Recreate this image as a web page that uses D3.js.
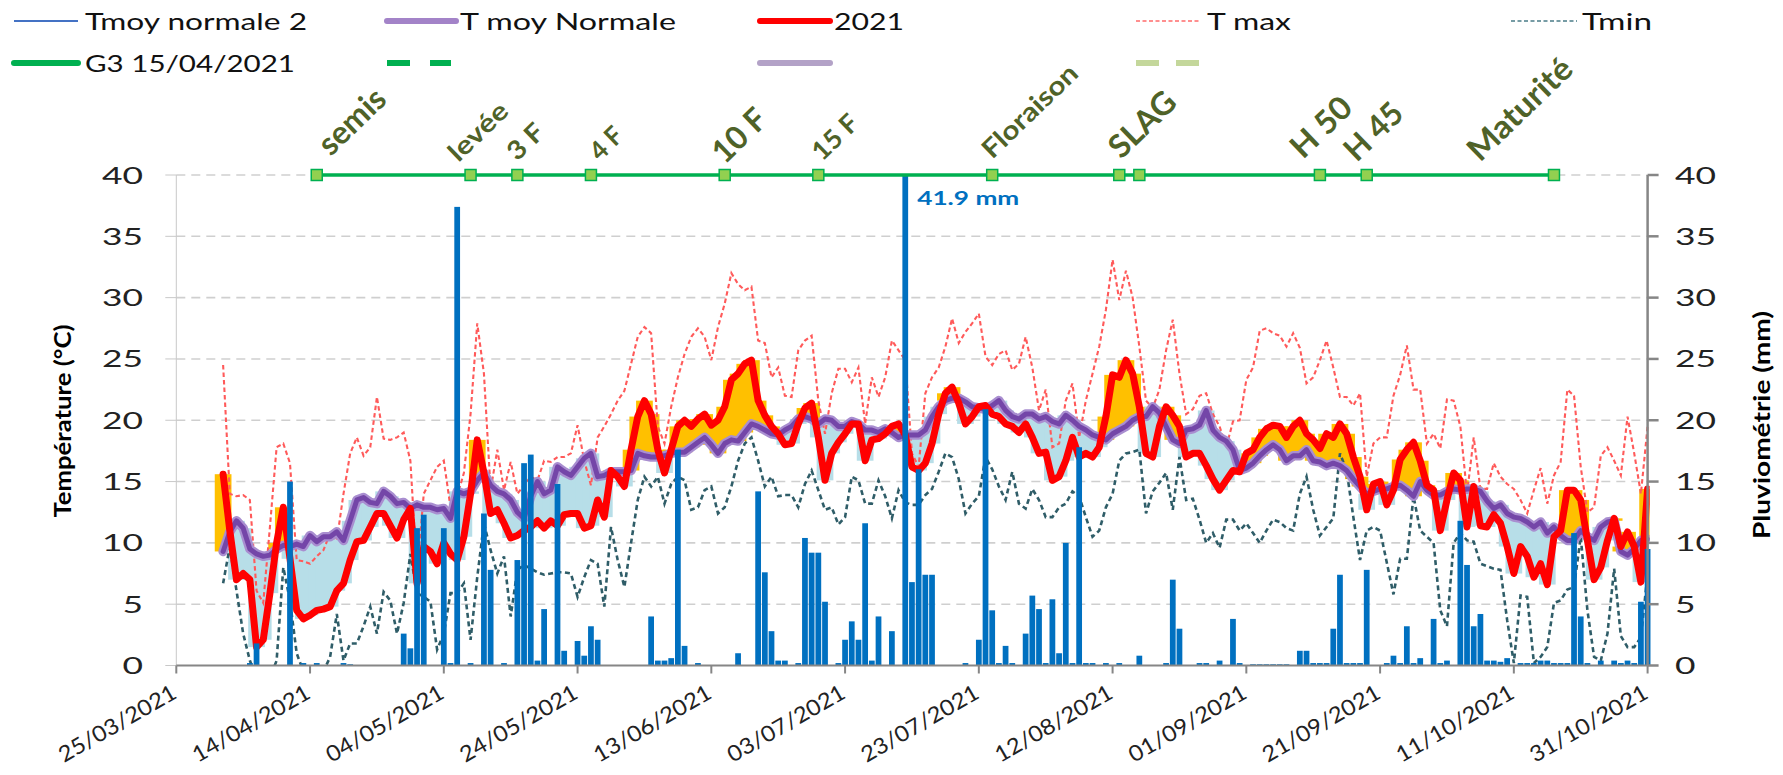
<!DOCTYPE html>
<html><head><meta charset="utf-8">
<script src="https://cdn.jsdelivr.net/npm/d3@7"></script>
<style>html,body{margin:0;padding:0;background:#fff;} svg{display:block;font-family:Lato,"Open Sans",sans-serif;}</style>
</head><body>
<svg id="chart" width="1783" height="775"></svg>
<script>
// ---------------- DATA ----------------
const startDate = "2021-04-01"; // first daily value
const t2021 = [
15.6,11.0,7.0,7.5,7.0,1.5,2.1,5.9,10.0,12.9,
8.7,4.5,3.8,4.1,4.5,4.6,4.8,6.1,6.7,8.6,
10.1,10.2,11.3,12.4,12.4,11.4,10.4,11.9,12.8,6.7,
9.7,9.3,8.3,10.0,9.1,8.6,10.5,14.0,18.4,15.7,
12.4,12.7,11.6,10.4,10.6,11.0,11.3,11.8,11.2,11.8,
11.4,12.3,12.4,12.4,11.2,11.4,13.5,12.1,15.9,15.4,
14.6,17.6,20.3,21.6,20.5,17.6,15.7,17.6,19.5,20.0,
19.5,20.1,20.5,19.6,20.0,21.1,23.3,23.8,24.6,24.9,
21.6,20.4,19.5,18.9,18.0,18.1,19.7,21.0,21.4,18.6,
15.1,17.3,18.2,18.9,19.7,19.7,16.7,18.4,18.5,18.9,
19.5,19.7,18.8,16.2,15.9,16.5,18.1,20.5,22.2,22.7,
21.4,19.7,20.3,21.1,21.2,20.5,20.3,19.7,19.5,19.0,
19.7,18.6,17.3,17.4,15.1,15.4,16.7,18.6,17.0,17.3,
17.0,17.8,20.3,23.7,23.5,24.9,23.8,21.1,17.3,17.0,
19.5,21.1,20.4,19.5,17.0,17.3,17.3,16.3,15.2,14.3,
15.1,15.9,15.8,17.3,17.6,18.6,19.3,19.6,19.5,18.6,
19.5,20.0,18.9,18.4,17.7,18.9,18.6,19.7,18.9,17.0,
15.4,12.7,14.8,15.0,13.1,14.3,16.8,17.6,18.2,16.7,
14.7,14.3,11.0,13.5,15.7,15.1,11.3,14.6,11.4,11.3,
12.3,11.6,9.7,7.5,9.7,8.9,7.2,8.3,6.6,10.5,
11.0,14.3,14.3,13.5,10.2,7.0,8.0,10.2,12.0,9.7,
10.9,9.7,6.8,14.4];
const tMoyNormale = [
9.3,10.9,11.8,11.2,9.5,9.1,8.9,9.0,9.5,9.8,
9.7,9.9,9.7,10.6,10.1,10.5,10.5,10.9,10.2,11.8,
13.5,13.7,13.3,13.2,14.2,13.8,13.2,13.3,12.8,13.1,
12.9,12.9,12.7,12.8,12.0,14.2,14.0,14.2,15.1,15.7,
14.7,14.2,14.0,13.5,12.5,12.0,13.8,15.0,14.0,14.3,
16.2,15.8,15.5,16.2,16.9,17.3,15.4,15.5,15.8,15.8,
15.8,15.9,17.3,17.1,17.0,17.0,17.1,17.3,17.4,17.4,
17.8,18.2,18.6,18.0,17.3,18.1,18.4,18.3,19.0,19.7,
19.5,19.2,18.9,18.8,19.2,19.5,20.1,20.3,20.1,19.7,
20.1,20.0,19.5,19.5,19.9,19.7,19.2,19.2,19.0,19.3,
19.0,18.6,18.8,18.8,18.8,19.2,20.3,21.1,21.6,21.8,
21.8,21.5,21.1,21.0,20.9,21.2,21.6,20.8,20.3,20.1,
20.5,20.5,20.1,20.3,19.9,19.7,20.4,20.0,19.5,19.2,
18.8,18.6,18.4,18.9,19.2,19.5,20.0,20.3,20.3,21.1,
20.6,19.5,18.4,18.1,19.2,19.3,19.6,20.8,19.2,18.6,
18.3,17.6,15.9,16.1,16.5,17.1,17.6,18.0,17.6,16.7,
17.1,17.1,17.6,16.7,16.6,16.3,16.5,16.3,15.9,15.2,
14.6,14.0,14.2,14.4,14.4,14.6,14.7,14.3,13.8,15.0,
14.3,13.9,13.9,14.2,14.4,14.3,14.4,14.4,14.2,13.4,
12.8,13.1,12.4,12.1,12.0,11.7,11.3,11.7,10.8,11.3,
10.6,10.2,10.2,11.0,10.5,10.2,11.3,11.7,11.8,9.3,
9.0,9.5,10.2,10.3];
const tMax = [
24.5,14.0,13.8,13.9,13.5,6.1,5.1,11.3,17.8,18.1,
16.5,8.6,8.5,8.3,8.9,9.4,10.8,10.2,14.0,17.3,
18.6,17.1,17.8,21.9,18.5,18.4,18.6,19.0,16.7,7.5,
14.0,15.1,16.2,16.7,12.9,13.8,15.7,20.5,27.9,23.8,
14.3,17.6,14.3,16.6,14.0,14.7,15.4,15.1,16.7,16.6,
17.0,17.0,17.3,19.6,16.7,14.7,18.6,19.5,20.5,21.6,
22.4,24.6,26.8,27.6,27.1,19.5,18.1,21.1,23.5,25.4,
26.8,27.5,26.8,24.9,27.6,29.5,32.0,31.1,30.6,30.9,
26.5,26.3,23.5,24.3,22.0,21.9,25.7,26.5,26.9,21.6,
18.9,22.2,24.2,24.2,23.1,24.3,19.7,23.5,21.9,23.5,
26.5,25.7,24.9,17.3,16.2,22.2,23.5,24.3,26.0,28.3,
26.3,27.2,27.9,28.7,25.2,24.5,25.4,25.7,24.1,24.6,
26.8,24.3,20.8,22.5,17.8,18.1,21.6,23.0,18.6,21.6,
23.8,26.0,29.0,33.1,29.8,32.2,30.0,26.0,21.6,21.0,
22.5,25.7,28.2,23.8,20.5,20.9,22.0,22.2,20.5,19.5,
17.8,19.9,20.0,23.3,24.3,27.3,27.5,27.1,26.9,26.0,
27.1,25.9,23.0,23.5,24.9,26.5,24.3,21.9,21.9,21.2,
22.2,15.4,18.1,18.6,18.6,22.0,23.7,26.1,22.5,22.5,
18.1,18.9,17.7,21.7,21.6,19.5,14.0,18.6,14.4,14.4,
16.5,15.4,14.8,14.4,13.5,12.4,14.3,16.1,13.2,15.5,
16.6,22.5,22.0,16.2,12.5,12.9,17.1,17.8,16.7,15.5,
20.3,17.3,14.0,19.5];
const tMin = [
6.7,9.7,6.1,2.6,0.4,-1.0,-2.0,-1.0,0.4,8.0,
5.3,1.0,-0.5,-1.0,-1.0,-0.5,0.7,4.2,0.4,1.8,
1.8,3.2,4.8,2.6,6.0,5.3,2.6,5.1,9.1,5.9,
5.6,5.2,1.3,2.6,5.9,5.9,6.7,2.1,7.2,11.6,
9.4,7.5,8.9,4.0,7.8,8.2,7.9,7.6,7.4,7.5,
7.6,7.6,7.5,5.6,7.2,8.6,8.3,4.8,11.3,8.6,
6.4,10.0,13.5,15.4,14.6,15.4,13.2,14.8,15.4,15.1,
12.7,12.9,14.3,14.6,12.4,12.9,14.6,16.7,18.1,18.6,
16.7,14.6,15.4,13.8,13.9,13.9,12.9,14.8,15.9,14.3,
12.7,12.9,11.5,12.1,15.4,15.1,13.2,13.2,15.1,13.8,
12.0,14.3,13.3,13.1,13.1,13.9,14.4,15.8,17.3,17.0,
15.2,12.4,13.2,13.8,17.0,16.0,14.6,13.5,15.8,13.2,
12.8,14.4,13.5,12.1,12.1,12.9,13.2,14.2,13.8,12.1,
10.5,11.0,12.9,14.0,16.7,17.3,17.4,17.6,12.4,14.2,
14.9,15.7,12.7,17.0,13.5,13.6,11.9,10.0,10.8,9.6,
11.9,11.9,11.0,11.6,10.8,10.0,11.0,11.9,11.7,11.2,
11.0,14.0,15.4,12.7,10.6,11.3,12.0,17.3,15.9,12.1,
8.6,11.0,11.3,11.0,8.4,5.8,8.7,8.7,13.8,11.0,
10.5,10.0,4.5,3.2,10.0,10.8,10.2,10.1,8.3,8.1,
7.9,7.8,3.7,0.2,5.7,5.6,0.2,0.7,1.5,5.1,
5.3,6.2,6.4,10.5,4.5,0.7,0.4,2.6,7.9,2.4,
1.5,1.5,2.3,7.5];
const pluvio = [
0,0,0,0,0.2,1.8,0,0,0,0,
15.0,0,0.2,0,0.2,0,0,0,0.2,0.1,
0,0,0,0,0,0,0,2.6,1.4,11.2,
12.3,0,0,11.2,0.2,37.4,0,0.2,0,12.4,
7.8,0,0.2,0,8.6,16.5,17.2,0.4,4.6,0,
14.8,1.2,0,2.0,0.8,3.2,2.1,0,0,0,
0,0,0,0,4.0,0.4,0.4,0.6,17.6,1.6,
0,0.2,0,0,0,0,0,1.0,0,0,
14.2,7.6,2.8,0.4,0.4,0,0.2,10.4,9.2,9.2,
5.2,0,0.2,2.1,3.6,2.1,11.6,0.4,4.0,0,
2.8,0,41.9,6.8,16.0,7.4,7.4,0,0,0,
0,0.2,0,2.1,20.9,4.5,0.2,1.6,0.2,0,
2.6,5.7,4.6,0.2,5.4,1.0,10.0,0.2,17.8,0.2,
0.2,0,0.2,0,0.2,0,0,0.8,0,0,
0,0.2,7.0,3.0,0,0,0.2,0.2,0,0.4,
0,3.8,0.2,0,0.1,0.1,0.1,0.1,0.1,0.1,
0,1.2,1.2,0.2,0.2,0.2,3.0,7.4,0.2,0.2,
0.2,7.8,0,0,0.2,0.8,0.2,3.2,0.2,0.6,
0,3.8,0.2,0.4,0,11.8,8.2,3.2,4.2,0.4,
0.4,0.3,0.6,0,0.2,0.2,0.2,0.4,0.4,0.2,
0.2,0.2,10.8,4.0,0.2,0,0.4,0,0.4,0.2,
0.4,0.2,5.2,9.5];
const xTickLabels = ["25/03/2021","14/04/2021","04/05/2021","24/05/2021","13/06/2021","03/07/2021","23/07/2021","12/08/2021","01/09/2021","21/09/2021","11/10/2021","31/10/2021"];
const yTickValues = [0,5,10,15,20,25,30,35,40];
const stageMarkerDates = ["15/04/2021","08/05/2021","15/05/2021","26/05/2021","15/06/2021","29/06/2021","25/07/2021","13/08/2021","16/08/2021","12/09/2021","19/09/2021","17/10/2021"];
const stageNames = ["semis","levée","3 F","4 F","10 F","15 F","Floraison","SLAG","H 50","H 45","Maturité"];
const stageNameDates = ["15/04/2021","08/05/2021","15/05/2021","26/05/2021","15/06/2021","29/06/2021","25/07/2021","13/08/2021","12/09/2021","19/09/2021","17/10/2021"];
const legendLabels = ["Tmoy normale 2","T moy Normale","2021","T max","Tmin","G3 15/04/2021","","",""];
const maxRainLabel = "41.9 mm";
const leftTitle = "Température (°C)";
const rightTitle = "Pluviométrie (mm)";

// ---------------- LAYOUT / STYLE ----------------
const svg = d3.select("#chart");
const parseISO = d3.utcParse("%Y-%m-%d");
const parseFR = d3.utcParse("%d/%m/%Y");
const X0 = 176.3, X1 = 1647.6, Y0 = 665.5, Y1 = 175;
const x = d3.scaleUtc().domain([parseFR(xTickLabels[0]), parseFR(xTickLabels[xTickLabels.length-1])]).range([X0, X1]);
const y = d3.scaleLinear().domain([0,40]).range([Y0, Y1]);
const yP = d3.scaleLinear().domain([0,40]).range([Y0, Y1]);
const t0 = parseISO(startDate);
const days = t2021.map((_, i) => d3.utcDay.offset(t0, i));
const dayW = x(d3.utcDay.offset(t0,1)) - x(t0);

function fitRotated(sel, tx, ty, angle, target) {
  sel.each(function(d,i){
    const len = this.getComputedTextLength();
    const s = (typeof target === "function" ? target(d,i) : target) / len;
    d3.select(this).attr("transform", `translate(${tx(d,i)},${ty(d,i)}) rotate(${angle}) scale(${s},1)`);
  });
}

const defs = svg.append("defs");
defs.append("clipPath").attr("id","plotClip").append("rect")
  .attr("x",X0).attr("y",Y1).attr("width",X1-X0+2).attr("height",Y0-Y1);
defs.append("clipPath").attr("id","barClip").append("rect")
  .attr("x",X0-10).attr("y",Y1).attr("width",X1-X0+20).attr("height",Y0-Y1);

// gridlines
svg.append("g").selectAll("line").data(yTickValues.filter(v=>v>0)).join("line")
  .attr("x1",X0).attr("x2",X1).attr("y1",d=>y(d)).attr("y2",d=>y(d))
  .attr("stroke","#CFCFCF").attr("stroke-width",1.6).attr("stroke-dasharray","9,6");

// difference columns (2021 vs normal)
const diff = days.map((d,i)=>({date:d, r:t2021[i], n:tMoyNormale[i]}));
const colW = dayW*2.5;
const gFill = svg.append("g").attr("clip-path","url(#plotClip)");
gFill.selectAll("rect.up").data(diff.filter(d=>d.r>=d.n)).join("rect")
  .attr("x",d=>x(d.date)-colW/2).attr("width",colW)
  .attr("y",d=>y(d.r)).attr("height",d=>y(d.n)-y(d.r)).attr("fill","#FFC000");
gFill.selectAll("rect.dn").data(diff.filter(d=>d.r<d.n)).join("rect")
  .attr("x",d=>x(d.date)-colW/2).attr("width",colW)
  .attr("y",d=>y(d.n)).attr("height",d=>y(d.r)-y(d.n)).attr("fill","#B7DEE8");

const line = d3.line().x(d=>x(d[0])).y(d=>y(d[1]));
const ser = arr => days.map((d,i)=>[d,arr[i]]);
const gLines = svg.append("g").attr("clip-path","url(#plotClip)");
gLines.append("path").attr("d",line(ser(tMin))).attr("fill","none")
  .attr("stroke","#2F5D68").attr("stroke-width",2.6).attr("stroke-dasharray","5,3.5");
gLines.append("path").attr("d",line(ser(tMax))).attr("fill","none")
  .attr("stroke","#FF5A5A").attr("stroke-width",2.1).attr("stroke-dasharray","4.5,3");
gLines.append("path").attr("d",line(ser(tMoyNormale))).attr("fill","none")
  .attr("stroke","#A98ED0").attr("stroke-width",9.5).attr("stroke-linejoin","round").attr("stroke-linecap","round");
gLines.append("path").attr("d",line(ser(tMoyNormale))).attr("fill","none")
  .attr("stroke","#7446A8").attr("stroke-width",5).attr("stroke-linejoin","round").attr("stroke-linecap","round");
gLines.append("path").attr("d",line(ser(t2021))).attr("fill","none")
  .attr("stroke","#FF0000").attr("stroke-width",7).attr("stroke-linejoin","round").attr("stroke-linecap","round");

// rain bars
const barW = dayW*0.86;
svg.append("g").attr("clip-path","url(#barClip)").selectAll("rect")
  .data(days.map((d,i)=>({date:d,v:pluvio[i]})).filter(d=>d.v>0)).join("rect")
  .attr("x",d=>x(d.date)-barW/2).attr("width",barW)
  .attr("y",d=>yP(d.v)).attr("height",d=>Y0-yP(d.v)).attr("fill","#0070C0");

// max rain label
const maxIdx = pluvio.indexOf(d3.max(pluvio));
svg.append("text").attr("x",x(days[maxIdx])+12).attr("y",205)
  .attr("font-size",19).attr("font-weight",700).attr("fill","#0070C0")
  .attr("textLength",102).attr("lengthAdjust","spacingAndGlyphs").text(maxRainLabel);

// phenology line + markers
const stD = stageMarkerDates.map(parseFR);
svg.append("line").attr("x1",x(stD[0])).attr("x2",x(stD[stD.length-1]))
  .attr("y1",y(40)).attr("y2",y(40)).attr("stroke","#00B050").attr("stroke-width",3.5);
svg.append("g").selectAll("rect").data(stD).join("rect")
  .attr("x",d=>x(d)-5.5).attr("y",y(40)-5.5).attr("width",11).attr("height",11)
  .attr("fill","#92D050").attr("stroke","#00B050").attr("stroke-width",1.5);
const stageLayout = [
 {dx:14,y:157,fs:32,len:80},{dx:-12,y:163,fs:26,len:72},{dx:0,y:162,fs:26,len:40},
 {dx:9,y:162,fs:26,len:35},{dx:0,y:165,fs:32,len:62},{dx:4,y:162,fs:26,len:53},
 {dx:0,y:160,fs:26,len:122},{dx:2,y:160,fs:32,len:80},{dx:-17,y:160,fs:32,len:72},
 {dx:-10,y:163,fs:32,len:68},{dx:-74,y:163,fs:32,len:132}];
const stTexts = svg.append("g").selectAll("text").data(stageNames).join("text")
  .attr("font-size",(d,i)=>stageLayout[i].fs).attr("font-weight",700).attr("fill","#4F6228").text(d=>d);
fitRotated(stTexts, (d,i)=>x(parseFR(stageNameDates[i]))+stageLayout[i].dx, (d,i)=>stageLayout[i].y, -44, (d,i)=>stageLayout[i].len);

// axes
const axisCol = "#868686";
svg.append("line").attr("x1",X0).attr("x2",X0).attr("y1",Y1).attr("y2",Y0).attr("stroke","#C8C8C8").attr("stroke-width",1);
svg.append("g").selectAll("line").data(yTickValues).join("line")
  .attr("x1",X0-11).attr("x2",X0).attr("y1",d=>y(d)).attr("y2",d=>y(d)).attr("stroke","#C8C8C8").attr("stroke-width",1);
svg.append("g").selectAll("text").data(yTickValues).join("text")
  .attr("x",143).attr("y",d=>y(d)+8.5).attr("text-anchor","end")
  .attr("font-size",24).attr("fill","#222")
  .attr("textLength",d=>String(d).length*20.5).attr("lengthAdjust","spacingAndGlyphs").text(d=>d);
svg.append("line").attr("x1",X1).attr("x2",X1).attr("y1",Y1).attr("y2",Y0).attr("stroke",axisCol).attr("stroke-width",2.5);
svg.append("g").selectAll("line").data(yTickValues).join("line")
  .attr("x1",X1).attr("x2",X1+11).attr("y1",d=>yP(d)).attr("y2",d=>yP(d)).attr("stroke",axisCol).attr("stroke-width",2.5);
svg.append("g").selectAll("text").data(yTickValues).join("text")
  .attr("x",1675).attr("y",d=>yP(d)+8.5)
  .attr("font-size",24).attr("fill","#222")
  .attr("textLength",d=>String(d).length*20.5).attr("lengthAdjust","spacingAndGlyphs").text(d=>d);
svg.append("line").attr("x1",X0).attr("x2",X1).attr("y1",Y0).attr("y2",Y0).attr("stroke",axisCol).attr("stroke-width",2);
svg.append("g").selectAll("line").data(xTickLabels).join("line")
  .attr("x1",d=>x(parseFR(d))).attr("x2",d=>x(parseFR(d))).attr("y1",Y0).attr("y2",Y0+8)
  .attr("stroke",axisCol).attr("stroke-width",2);
const xt = svg.append("g").selectAll("text").data(xTickLabels).join("text")
  .attr("text-anchor","end").attr("font-size",22).attr("fill","#222").text(d=>d);
fitRotated(xt, d=>x(parseFR(d))+2, ()=>697, -30, 132);
// titles
svg.append("text").attr("transform","translate(71,421) rotate(-90)").attr("text-anchor","middle")
  .attr("font-size",22).attr("font-weight",700).attr("fill","#000")
  .attr("textLength",193).attr("lengthAdjust","spacingAndGlyphs").text(leftTitle);
svg.append("text").attr("transform","translate(1770,425) rotate(-90)").attr("text-anchor","middle")
  .attr("font-size",23).attr("font-weight",700).attr("fill","#000")
  .attr("textLength",228).attr("lengthAdjust","spacingAndGlyphs").text(rightTitle);

// legend
const legendStyle = [
 {row:0,x0:14,x1:78,tx:85,tl:222,stroke:"#4472C4",w:2},
 {row:0,x0:387,x1:456,tx:460,tl:216,stroke:"#A383C8",w:6,cap:"round"},
 {row:0,x0:760,x1:830,tx:834,tl:70,stroke:"#FF0000",w:6,cap:"round"},
 {row:0,x0:1136,x1:1200,tx:1207,tl:84,stroke:"#FF6B6B",w:1.6,dash:"4,2.5"},
 {row:0,x0:1511,x1:1577,tx:1582,tl:70,stroke:"#4A7C88",w:1.6,dash:"4,2.5"},
 {row:1,x0:14,x1:78,tx:85,tl:210,stroke:"#00B050",w:6,cap:"round"},
 {row:1,x0:387,x1:451,stroke:"#00B050",w:6,dash:"23,20"},
 {row:1,x0:760,x1:830,stroke:"#B3A2C7",w:6,cap:"round"},
 {row:1,x0:1136,x1:1200,stroke:"#C4D79B",w:6,dash:"23,17"}];
const rowLineY = [21,63], rowTextY = [30,72];
const gLeg = svg.append("g");
legendLabels.forEach((lab,i)=>{
  const s = legendStyle[i];
  gLeg.append("line").attr("x1",s.x0).attr("x2",s.x1).attr("y1",rowLineY[s.row]).attr("y2",rowLineY[s.row])
    .attr("stroke",s.stroke).attr("stroke-width",s.w).attr("stroke-linecap",s.cap||"butt")
    .attr("stroke-dasharray",s.dash||null);
  if (lab) gLeg.append("text").attr("x",s.tx).attr("y",rowTextY[s.row]).attr("font-size",23).attr("fill","#111")
    .attr("textLength",s.tl).attr("lengthAdjust","spacingAndGlyphs").text(lab);
});
</script>
</body></html>
